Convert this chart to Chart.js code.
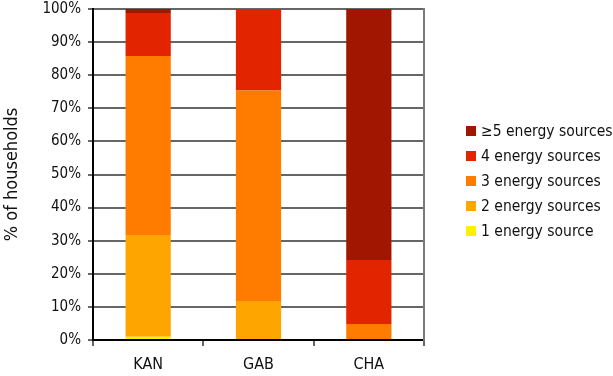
<!DOCTYPE html>
<html>
<head>
<meta charset="utf-8">
<script src="https://cdn.jsdelivr.net/npm/chart.js@4/dist/chart.umd.min.js"></script>
<style>
  html, body { margin: 0; padding: 0; background: #fff; }
  #wrap { width: 613px; height: 376px; }
</style>
</head>
<body>
<div id="wrap"><canvas id="c" width="613" height="376"></canvas></div>
<script>
// Share of households by number of energy sources used (percent)
const categories = ['KAN', 'GAB', 'CHA'];
const oneSource   = [1.0, 0.0, 0.0];
const twoSources  = [30.7, 11.8, 0.0];
const threeSources = [54.1, 63.6, 4.8];
const fourSources = [13.0, 24.6, 19.4];
const fivePlusSources = [1.2, 0.0, 75.8];

const seriesNames = ['1 energy source', '2 energy sources', '3 energy sources', '4 energy sources', '\u22655 energy sources'];
const seriesColors = ['#FFEF00', '#FFA500', '#FF7C00', '#E32400', '#A11600'];
const seriesValues = [oneSource, twoSources, threeSources, fourSources, fivePlusSources];

const FONT = "'DejaVu Sans Condensed', 'DejaVu Sans', sans-serif";
const TEXT = '#111';

// Legend on the right, highest count on top
const sideLegend = {
  id: 'sideLegend',
  afterDraw(chart) {
    const {ctx, chartArea} = chart;
    const ds = chart.data.datasets;
    const x0 = chartArea.right + 42;
    const y0 = chartArea.top + 122;
    ctx.save();
    ctx.font = '15.5px ' + FONT;
    ctx.textBaseline = 'middle';
    ctx.textAlign = 'left';
    for (let i = ds.length - 1, k = 0; i >= 0; i--, k++) {
      const y = y0 + k * 25;
      ctx.fillStyle = ds[i].backgroundColor;
      ctx.fillRect(x0, y - 5, 10, 10);
      ctx.fillStyle = TEXT;
      ctx.fillText(ds[i].label, x0 + 15, y + 1);
    }
    ctx.restore();
  }
};

// Closing line on the right side of the plot box
const rightFrame = {
  id: 'rightFrame',
  afterDatasetsDraw(chart) {
    const {ctx, chartArea} = chart;
    ctx.save();
    ctx.strokeStyle = '#7a7a7a';
    ctx.lineWidth = 2;
    ctx.beginPath();
    ctx.moveTo(Math.round(chartArea.right), chartArea.top - 1);
    ctx.lineTo(Math.round(chartArea.right), chartArea.bottom + 1);
    ctx.stroke();
    ctx.restore();
  }
};

new Chart(document.getElementById('c'), {
  type: 'bar',
  data: {
    labels: categories,
    datasets: seriesValues.map((vals, i) => ({
      label: seriesNames[i],
      data: vals,
      backgroundColor: seriesColors[i],
      borderWidth: 0,
      barPercentage: 0.41,
      categoryPercentage: 1.0
    }))
  },
  options: {
    responsive: false,
    animation: false,
    layout: { padding: { top: 9, right: 189, left: 0, bottom: 0 } },
    plugins: {
      legend: { display: false },
      tooltip: { enabled: false }
    },
    scales: {
      x: {
        stacked: true,
        offset: true,
        grid: {
          drawOnChartArea: false,
          drawTicks: true,
          tickLength: 6,
          color: '#666',
          lineWidth: 2,
          offset: true
        },
        border: { color: '#000', width: 2 },
        ticks: { color: TEXT, font: { family: FONT, size: 16 }, padding: 9 },
        afterFit(scale) { scale.height = 36; }
      },
      y: {
        stacked: true,
        min: 0,
        max: 100,
        grid: {
          color: '#666',
          lineWidth: 2,
          drawTicks: true,
          tickLength: 5
        },
        border: { color: '#000', width: 2 },
        ticks: {
          stepSize: 10,
          color: TEXT,
          font: { family: FONT, size: 15 },
          padding: 7,
          callback: v => v + '%'
        },
        title: {
          display: true,
          text: '% of households',
          color: TEXT,
          font: { family: FONT, size: 18 },
          padding: { top: 2, bottom: 0 }
        },
        afterFit(scale) {
          scale.width = 93;
          scale.paddingTop = 0;
          scale.paddingBottom = 0;
        }
      }
    }
  },
  plugins: [sideLegend, rightFrame]
});
</script>
</body>
</html>
